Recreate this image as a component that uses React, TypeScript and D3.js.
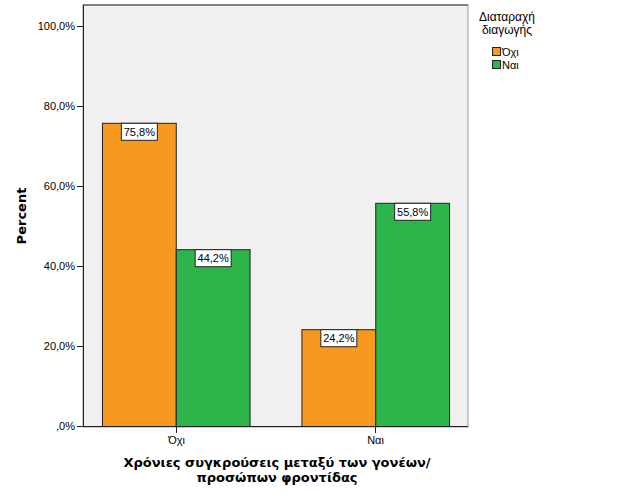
import React from "react";
import * as d3 from "d3";

const categories = ["Όχι", "Ναι"];
const series = ["Όχι", "Ναι"];
const valuesOxi = [75.8, 24.2];
const valuesNai = [44.2, 55.8];
const yTicks = [0, 20, 40, 60, 80, 100];
const colors = ["#f7991f", "#2db44b"];

const fmt = (v: number) => (v === 0 ? ",0%" : v.toFixed(1).replace(".", ",") + "%");

export default function App() {
  const W = 626, H = 501;
  const left = 83, right = 468, top = 5, bottom = 427;
  const y = d3.scaleLinear().domain([0, 100]).range([426, 26]);
  const x0 = d3.scaleBand<string>().domain(categories).range([left, right]).paddingInner(0.26).paddingOuter(0.095);
  const x1 = d3.scaleBand<string>().domain(series).range([0, x0.bandwidth()]);
  const data = categories.map((c, i) => ({ cat: c, vals: [valuesOxi[i], valuesNai[i]] }));
  const font = "Arial, 'Liberation Sans', sans-serif";
  return (
    <svg width={W} height={H} style={{ position: "absolute", left: 0, top: 0 }} fontFamily={font}>
      <rect x={0} y={0} width={W} height={H} fill="#fff" />
      <rect x={left} y={top} width={right - left} height={bottom - top} fill="#f0f0f0" stroke="#9a9a9a" strokeWidth={1} />
      <line x1={left} x2={right} y1={top} y2={top} stroke="#808080" strokeWidth={2} />
      {data.map((d) =>
        d.vals.map((v, j) => {
          const bx = (x0(d.cat) as number) + (x1(series[j]) as number);
          const bw = x1.bandwidth();
          const by = y(v);
          return (
            <g key={d.cat + j}>
              <rect x={bx + 0.5} y={by + 0.5} width={bw} height={y(0) - by} fill={colors[j]} stroke="#222" strokeWidth={1} />
            </g>
          );
        })
      )}
      {data.map((d) =>
        d.vals.map((v, j) => {
          const bx = (x0(d.cat) as number) + (x1(series[j]) as number);
          const bw = x1.bandwidth();
          const by = y(v);
          const cx = bx + bw / 2;
          return (
            <g key={"l" + d.cat + j}>
              <rect x={cx - 18 + 0.5} y={by + 0.5} width={36} height={17} fill="#fff" stroke="#222" strokeWidth={1} />
              <text x={cx + 0.5} y={by + 13} textAnchor="middle" fontSize={11} fill="#000">{fmt(v)}</text>
            </g>
          );
        })
      )}
      {/* axes */}
      <line x1={left + 0.5} x2={left + 0.5} y1={top} y2={bottom} stroke="#222" />
      <line x1={left} x2={right} y1={bottom - 0.5} y2={bottom - 0.5} stroke="#222" />
      {yTicks.map((t) => (
        <g key={t}>
          <line x1={left - 6} x2={left} y1={Math.round(y(t)) + 0.5} y2={Math.round(y(t)) + 0.5} stroke="#222" />
          <text x={left - 8} y={y(t) + 4} textAnchor="end" fontSize={11} fill="#000">{fmt(t)}</text>
        </g>
      ))}
      {categories.map((c) => {
        const cx = Math.round((x0(c) as number) + x0.bandwidth() / 2) + 0.5;
        return (
          <g key={c}>
            <line x1={cx} x2={cx} y1={bottom} y2={bottom + 6} stroke="#222" />
            <text x={cx} y={bottom + 17} textAnchor="middle" fontSize={11} fill="#000">{c}</text>
          </g>
        );
      })}
      <text transform="translate(26,216) rotate(-90)" textAnchor="middle" fontSize={13} fontWeight="bold" fill="#000" fontFamily="'DejaVu Sans', sans-serif">Percent</text>
      <text x={277} y={467} textAnchor="middle" fontSize={13} fontWeight="bold" fill="#000" fontFamily="'DejaVu Sans', sans-serif">Χρόνιες συγκρούσεις μεταξύ των γονέων/</text>
      <text x={277} y={482} textAnchor="middle" fontSize={13} fontWeight="bold" fill="#000" fontFamily="'DejaVu Sans', sans-serif">προσώπων φροντίδας</text>
      {/* legend */}
      <text x={507} y={21} textAnchor="middle" fontSize={12} fill="#000">Διαταραχή</text>
      <text x={507} y={34} textAnchor="middle" fontSize={12} fill="#000">διαγωγής</text>
      {series.map((s, j) => (
        <g key={s}>
          <rect x={492.5} y={47.5 + j * 13} width={8} height={8} fill={colors[j]} stroke="#222" />
          <text x={502} y={56 + j * 13} fontSize={11} fill="#000">{s}</text>
        </g>
      ))}
    </svg>
  );
}
